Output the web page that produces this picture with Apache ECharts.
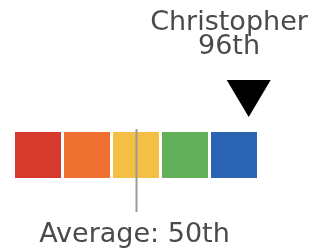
<!DOCTYPE html>
<html>
<head>
<meta charset="utf-8">
<script src="https://cdn.jsdelivr.net/npm/echarts@6/dist/echarts.min.js"></script>
<style>
  html, body { margin: 0; padding: 0; background: #fff; }
  #chart { width: 318px; height: 248px; }
</style>
</head>
<body>
<div id="chart"></div>
<script>
// percentile bands (quintiles)
const bandStarts = [0, 20, 40, 60, 80];
const bandEnds = [20, 40, 60, 80, 100];
const bandColors = ['#d63a2c', '#ee7132', '#f5be45', '#64af5a', '#2b64b2'];

// markers
const averageLabel = 'Average';
const averageValue = 50;
const personName = 'Christopher';
const personValue = 96;

function ordinal(n) {
  const s = ['th', 'st', 'nd', 'rd'];
  const v = n % 100;
  return n + (s[(v - 20) % 10] || s[v] || s[0]);
}

const textColor = '#4a4a4a';
const font = 'DejaVu Sans';

const chart = echarts.init(document.getElementById('chart'));

const option = {
  animation: false,
  grid: { left: 13.5, width: 245, top: 132, height: 46 },
  xAxis: { type: 'value', min: 0, max: 100, show: false },
  yAxis: { type: 'value', min: 0, max: 1, show: false },
  series: [
    {
      // colour bands
      type: 'custom',
      data: bandStarts.map((s, i) => [s, bandEnds[i]]),
      renderItem(params, api) {
        const a = api.coord([api.value(0), 1]);
        const b = api.coord([api.value(1), 0]);
        return {
          type: 'rect',
          shape: { x: a[0] + 1.5, y: a[1], width: b[0] - a[0] - 3, height: b[1] - a[1] },
          style: { fill: bandColors[params.dataIndex] }
        };
      }
    },
    {
      // average line + label
      type: 'custom',
      data: [[averageValue]],
      z: 5,
      renderItem(params, api) {
        const top = api.coord([api.value(0), 1]);
        const bot = api.coord([api.value(0), 0]);
        const x = Math.round(top[0]) + 0.5;
        return {
          type: 'group',
          children: [
            {
              type: 'line',
              shape: { x1: x, y1: top[1] - 3, x2: x, y2: bot[1] + 34 },
              style: { stroke: '#9a9a9a', lineWidth: 2 }
            },
            {
              type: 'text',
              style: {
                x: x - 2, y: bot[1] + 57,
                text: averageLabel + ': ' + ordinal(api.value(0)),
                align: 'center', verticalAlign: 'middle',
                fill: textColor, fontFamily: font, fontSize: 27
              }
            }
          ]
        };
      }
    },
    {
      // person marker
      type: 'custom',
      data: [[personValue]],
      z: 6,
      renderItem(params, api) {
        const p = api.coord([api.value(0), 1]);
        const tip = p[1] - 15;
        const x = p[0];
        return {
          type: 'group',
          children: [
            {
              type: 'polygon',
              shape: { points: [[x - 22, tip - 37], [x + 22, tip - 37], [x, tip]] },
              style: { fill: '#000' }
            },
            {
              type: 'text',
              style: {
                x: Math.min(x, 318 - 89), y: tip - 82,
                text: personName + '\n' + ordinal(api.value(0)),
                align: 'center', verticalAlign: 'middle', lineHeight: 24,
                fill: textColor, fontFamily: font, fontSize: 27
              }
            }
          ]
        };
      }
    }
  ]
};

chart.setOption(option);
</script>
</body>
</html>
